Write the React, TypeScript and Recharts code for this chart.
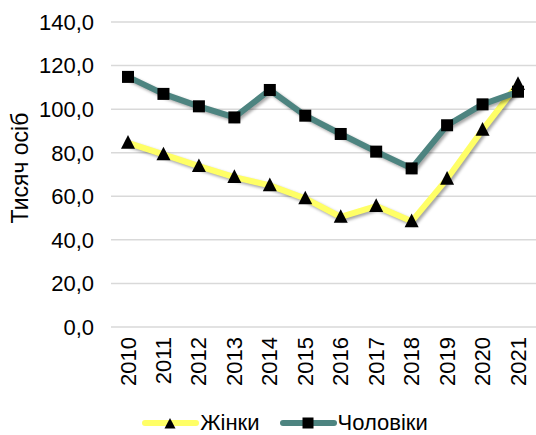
import React from 'react';
import { LineChart, Line, XAxis, YAxis, CartesianGrid, Legend } from 'recharts';

const years = ['2010', '2011', '2012', '2013', '2014', '2015', '2016', '2017', '2018', '2019', '2020', '2021'];
const women = [84.5, 79.2, 73.8, 68.8, 65.0, 59.0, 50.5, 55.5, 48.5, 68.0, 90.5, 111.5];
const men = [114.8, 107.0, 101.3, 96.2, 108.8, 97.0, 88.6, 80.5, 72.8, 92.6, 102.2, 108.0];
const yTicks = [0, 20, 40, 60, 80, 100, 120, 140];

const YELLOW = '#ffff66';
const TEAL = '#4d8480';
const FONT = '"Liberation Sans", Arial, sans-serif';

const data = years.map((year, i) => ({ year, women: women[i], men: men[i] }));

const series = [
  { key: 'women', name: 'Жінки', color: YELLOW, shape: 'triangle' },
  { key: 'men', name: 'Чоловіки', color: TEAL, shape: 'square' },
];

function Marker({ cx, cy, shape, size }: { cx: number; cy: number; shape: string; size: number }) {
  if (shape === 'square') {
    return <rect x={cx - size / 2} y={cy - size / 2} width={size} height={size} fill="#000" />;
  }
  const h = size;
  return (
    <polygon
      points={`${cx},${cy - h * 0.6} ${cx + size / 2 + 0.5},${cy + h * 0.45} ${cx - size / 2 - 0.5},${cy + h * 0.45}`}
      fill="#000"
    />
  );
}

const XTick = ({ x, y, payload }: any) => (
  <text
    x={x}
    y={y + 2}
    transform={`rotate(-90, ${x}, ${y + 2})`}
    textAnchor="end"
    dominantBaseline="central"
    fontSize={22}
    fontFamily={FONT}
    fill="#000"
  >
    {payload.value}
  </text>
);

const LegendContent = () => (
  <div
    style={{
      display: 'flex',
      justifyContent: 'center',
      alignItems: 'center',
      height: 24,
      paddingLeft: 34,
      fontFamily: FONT,
      fontSize: 22,
    }}
  >
    {series.map((s, i) => (
      <div key={s.key} style={{ display: 'flex', alignItems: 'center', marginLeft: i ? 20 : 0 }}>
        <svg width={57} height={14}>
          <line x1={3} y1={7} x2={54} y2={7} stroke={s.color} strokeWidth={6} strokeLinecap="round" />
          <Marker cx={28} cy={s.shape === 'triangle' ? 8 : 7} shape={s.shape} size={s.shape === 'triangle' ? 10 : 11} />
        </svg>
        <span style={{ marginLeft: 1 }}>{s.name}</span>
      </div>
    ))}
  </div>
);

export default function App() {
  return (
    <div style={{ position: 'absolute', left: 0, top: 0, background: '#fff' }}>
      <style>{`.recharts-line { filter: drop-shadow(2px 2px 1.5px rgba(0,0,0,0.35)); }`}</style>
      <LineChart width={536} height={435} data={data} margin={{ top: 22, right: 0, left: 0, bottom: 0 }}>
        <CartesianGrid vertical={false} stroke="#d9d9d9" strokeWidth={1.5} />
        <XAxis
          dataKey="year"
          axisLine={false}
          tickLine={false}
          interval={0}
          height={84}
          padding={{ left: 17, right: 18 }}
          tick={<XTick />}
        />
        <YAxis
          domain={[0, 140]}
          ticks={yTicks}
          width={111}
          axisLine={false}
          tickLine={false}
          tickMargin={11}
          tickFormatter={(v: number) => v.toFixed(1).replace('.', ',')}
          tick={{ fill: '#000', fontSize: 22, fontFamily: FONT }}
          label={() => (
            <text
              x={20}
              y={168}
              transform="rotate(-90, 20, 168)"
              textAnchor="middle"
              dominantBaseline="central"
              fontSize={23}
              fontFamily={FONT}
              fill="#000"
            >
              Тисяч осіб
            </text>
          )}
        />
        <Legend verticalAlign="bottom" content={<LegendContent />} />
        {series.map((s) => (
          <Line
            key={s.key}
            dataKey={s.key}
            name={s.name}
            stroke={s.color}
            strokeWidth={6}
            strokeLinejoin="round"
            isAnimationActive={false}
            dot={(p: any) => (
              <Marker key={p.index} cx={p.cx} cy={p.cy} shape={s.shape} size={s.shape === 'triangle' ? 13 : 12} />
            )}
          />
        ))}
      </LineChart>
    </div>
  );
}
